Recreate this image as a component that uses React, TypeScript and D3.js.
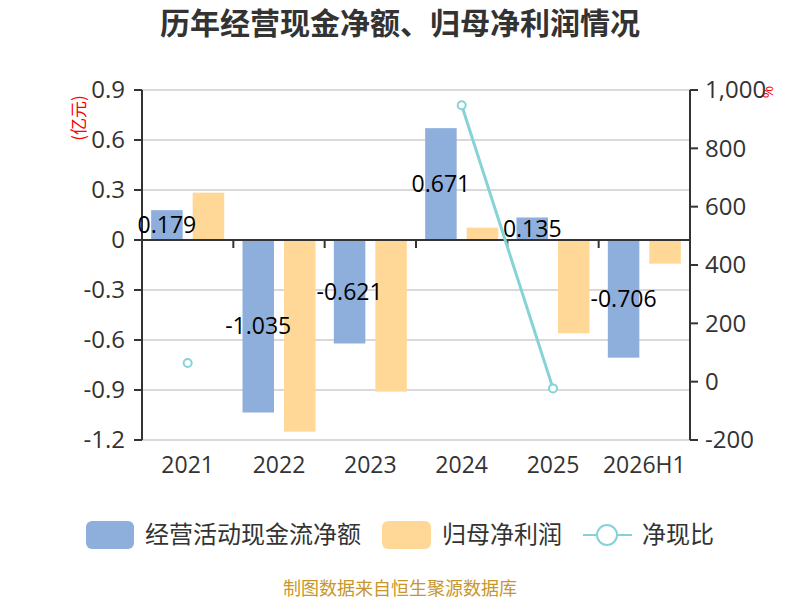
import * as d3 from "d3";
import React from "react";

// chart data
const categories = ["2021", "2022", "2023", "2024", "2025", "2026H1"];
const cashFlow = [0.179, -1.035, -0.621, 0.671, 0.135, -0.706];
const netProfit = [0.284, -1.15, -0.91, 0.074, -0.56, -0.142];
const cashRatio: (number | null)[] = [64, null, null, 948, -23, null];
const leftTicks = [0.9, 0.6, 0.3, 0, -0.3, -0.6, -0.9, -1.2];
const rightTicks = [1000, 800, 600, 400, 200, 0, -200];

const W = 800;
const H = 600;
const l = 142;
const r = 690;
const t = 90;
const b = 440;

const font = "'Open Sans', 'Noto Sans CJK SC', sans-serif";
const cjk = "'Noto Sans CJK SC', sans-serif";
const blue = "#8eaedb";
const orange = "#ffd897";
const teal = "#86d3d6";
const dark = "#333";

const App: React.FC = () => {
  const x = d3.scaleBand<string>().domain(categories).range([l, r]);
  const y = d3.scaleLinear().domain([-1.2, 0.9]).range([b, t]);
  const y2 = d3.scaleLinear().domain([-200, 1000]).range([b, t]);

  const bw = 31.5;
  const gap = 10;
  const inner = d3
    .scaleOrdinal<string, number>()
    .domain(["cash", "profit"])
    .range([x.bandwidth() / 2 - gap / 2 - bw, x.bandwidth() / 2 + gap / 2]);

  const line = d3
    .line<number | null>()
    .defined((d) => d !== null)
    .x((_, i) => (x(categories[i]) ?? 0) + x.bandwidth() / 2)
    .y((d) => y2(d as number));

  const fmtLeft = (v: number) => (v === 0 ? "0" : d3.format(".1f")(v).replace("−", "-"));
  const fmtRight = (v: number) => d3.format(",")(v).replace("−", "-");
  const boundaries = d3.range(categories.length + 1).map((i) => l + i * x.step());

  return (
    <svg
      width={W}
      height={H}
      style={{ position: "absolute", left: 0, top: 0 }}
      fontFamily={font}
    >
      <rect width={W} height={H} fill="#fff" />
      <text x={400} y={23} dy="0.35em" textAnchor="middle" fontSize={30} fontWeight="bold" fill={dark} fontFamily={cjk}>
        历年经营现金净额、归母净利润情况
      </text>

      {/* grid */}
      {leftTicks.map((v) => (
        <line key={"g" + v} x1={l} x2={r} y1={y(v)} y2={y(v)} stroke="#ccc" strokeWidth={1.5} />
      ))}

      {/* bars */}
      {categories.map((c, i) => (
        <g key={"b" + c}>
          <rect
            x={(x(c) ?? 0) + inner("cash")}
            y={Math.min(y(cashFlow[i]), y(0))}
            width={bw}
            height={Math.abs(y(cashFlow[i]) - y(0))}
            fill={blue}
          />
          <rect
            x={(x(c) ?? 0) + inner("profit")}
            y={Math.min(y(netProfit[i]), y(0))}
            width={bw}
            height={Math.abs(y(netProfit[i]) - y(0))}
            fill={orange}
          />
        </g>
      ))}

      {/* axes */}
      <line x1={l} x2={l} y1={t} y2={b} stroke={dark} strokeWidth={2} />
      <line x1={r} x2={r} y1={t} y2={b} stroke={dark} strokeWidth={2} />
      <line x1={l} x2={r} y1={y(0)} y2={y(0)} stroke={dark} strokeWidth={2} />
      {boundaries.map((bx) => (
        <line key={"bt" + bx} x1={bx} x2={bx} y1={y(0)} y2={y(0) + 8} stroke={dark} strokeWidth={2} />
      ))}
      {leftTicks.map((v) => (
        <g key={"lt" + v}>
          <line x1={l - 8} x2={l} y1={y(v)} y2={y(v)} stroke={dark} strokeWidth={2} />
          <text x={l - 17} y={y(v)} dy="0.35em" textAnchor="end" fontSize={24} fill={dark}>
            {fmtLeft(v)}
          </text>
        </g>
      ))}
      {rightTicks.map((v) => (
        <g key={"rt" + v}>
          <line x1={r} x2={r + 8} y1={y2(v)} y2={y2(v)} stroke={dark} strokeWidth={2} />
          <text x={r + 15} y={y2(v)} dy="0.35em" textAnchor="start" fontSize={24} fill={dark}>
            {fmtRight(v)}
          </text>
        </g>
      ))}
      {categories.map((c) => (
        <text key={"c" + c} x={(x(c) ?? 0) + x.bandwidth() / 2} y={465} dy="0.35em" textAnchor="middle" fontSize={23} fill={dark}>
          {c}
        </text>
      ))}
      <text transform="translate(79,118) rotate(-90)" dy="0.35em" textAnchor="middle" fontSize={17} fill="red" fontFamily={cjk}>
        (亿元)
      </text>
      <text transform="translate(768,92) rotate(-90)" dy="0.35em" textAnchor="middle" fontSize={15} fill="red">
        %
      </text>

      {/* bar labels */}
      {categories.map((c, i) => (
        <text
          key={"lb" + c}
          x={(x(c) ?? 0) + inner("cash") + bw / 2}
          y={(y(cashFlow[i]) + y(0)) / 2}
          dy="0.35em"
          textAnchor="middle"
          fontSize={23}
          fill="#000"
        >
          {cashFlow[i]}
        </text>
      ))}

      {/* line */}
      <path d={line(cashRatio) ?? ""} fill="none" stroke={teal} strokeWidth={3} />
      {cashRatio.map((v, i) =>
        v === null ? null : (
          <circle
            key={"p" + i}
            cx={(x(categories[i]) ?? 0) + x.bandwidth() / 2}
            cy={y2(v)}
            r={4}
            fill="#fff"
            stroke={teal}
            strokeWidth={2}
          />
        )
      )}

      {/* legend */}
      <g fontFamily={cjk}>
        <rect x={86} y={521} width={48} height={28} rx={6} fill={blue} />
        <text x={145} y={535} dy="0.35em" fontSize={24} fill={dark}>经营活动现金流净额</text>
        <rect x={382} y={521} width={49} height={28} rx={6} fill={orange} />
        <text x={442} y={535} dy="0.35em" fontSize={24} fill={dark}>归母净利润</text>
        <line x1={583} x2={632} y1={535} y2={535} stroke={teal} strokeWidth={2} />
        <circle cx={607} cy={535} r={10} fill="#fff" stroke={teal} strokeWidth={2} />
        <text x={642} y={535} dy="0.35em" fontSize={24} fill={dark}>净现比</text>

        <text x={400} y={589} dy="0.35em" textAnchor="middle" fontSize={18} fill="#c8962a">
          制图数据来自恒生聚源数据库
        </text>
      </g>
    </svg>
  );
};

export default App;
